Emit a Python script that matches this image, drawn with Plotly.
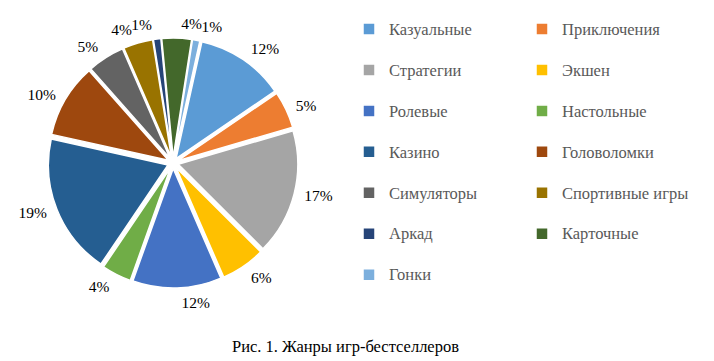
import plotly.graph_objects as go

categories = ["Казуальные", "Приключения", "Стратегии", "Экшен", "Ролевые",
              "Настольные", "Казино", "Головоломки", "Симуляторы",
              "Спортивные игры", "Аркад", "Карточные", "Гонки"]
shares = [12, 5, 17, 6, 12, 4, 19, 10, 5, 4, 1, 4, 1]
colors = ["#5B9BD5", "#ED7D31", "#A5A5A5", "#FFC000", "#4472C4", "#70AD47",
          "#255E91", "#9E480E", "#636363", "#997300", "#264478", "#43682B",
          "#7CAFDD"]
caption = "Рис. 1. Жанры игр-бестселлеров"

W, H = 714, 361
MR = 360
PW = W - MR  # paper width in px
cx, cy, R = 173, 163, 125   # pie centre and outer radius (px)
RL = 131                     # radius of the invisible label rings

legend_labels = ["<span style='font-size:16.5px'>" + c + "</span><br>&nbsp;"
                 for c in categories]


def dom(r):
    return dict(x=[(cx - r) / PW, (cx + r) / PW],
                y=[(H - cy - r) / H, (H - cy + r) / H])


fig = go.Figure()
fig.add_trace(go.Pie(
    labels=legend_labels,
    values=shares,
    sort=False,
    direction="clockwise",
    rotation=12.5,
    marker=dict(colors=colors, line=dict(color="white", width=1.5)),
    pull=0.045,
    textinfo="none",
    domain=dom(R),
    hoverinfo="percent",
))
# two transparent rings carrying the percentage labels (same data, same
# angles); alternating slices so neighbouring labels are not stacked
for parity in (0, 1):
    fig.add_trace(go.Pie(
        labels=legend_labels,
        values=shares,
        sort=False,
        direction="clockwise",
        rotation=12.5,
        marker=dict(colors=["rgba(0,0,0,0)"] * len(shares),
                    line=dict(width=0)),
        textinfo="percent",
        texttemplate="%{percent:.0%}",
        textposition=["outside" if i % 2 == parity else "none"
                      for i in range(len(shares))],
        outsidetextfont=dict(family="Liberation Serif", size=15.5,
                             color="#000000"),
        domain=dom(RL),
        hoverinfo="skip",
        showlegend=False,
    ))

fig.add_annotation(text=caption, xref="paper", yref="paper",
                   x=345 / PW, y=1 - 346 / H, showarrow=False,
                   font=dict(family="Liberation Serif", size=16.5,
                             color="#000000"),
                   xanchor="center", yanchor="middle")

fig.update_layout(
    width=W, height=H,
    margin=dict(l=0, r=MR, t=0, b=0, autoexpand=False),
    paper_bgcolor="white",
    plot_bgcolor="white",
    showlegend=True,
    legend=dict(
        orientation="h",
        xref="paper", yref="paper",
        x=349 / PW, y=1 - 13 / H,
        xanchor="left", yanchor="top",
        entrywidth=128, entrywidthmode="pixels",
        valign="top",
        maxheight=1,
        font=dict(family="Liberation Serif", size=14.6, color="#595959"),
        itemwidth=30,
        bgcolor="rgba(0,0,0,0)",
    ),
)

fig.write_html("out.html", config={"displayModeBar": False},
               post_script="document.body.style.margin='0px';")
